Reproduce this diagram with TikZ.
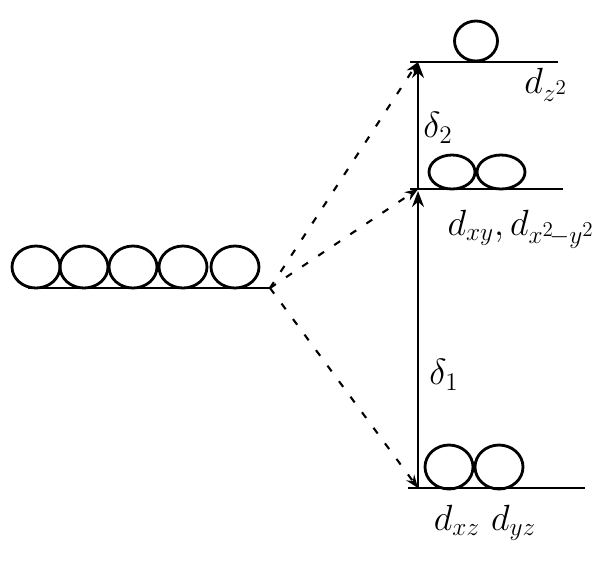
\documentclass[tikz,border=0pt]{standalone}
\usetikzlibrary{arrows.meta,positioning,shapes.geometric}
\begin{document}
\begin{tikzpicture}[
  x=0.02cm, y=-0.02cm,
  level/.style={draw=black,line width=1.3pt},
  orb/.style={ellipse,draw=black,line width=1.6pt,inner sep=0pt,
              minimum width=0.96cm,minimum height=0.84cm},
  split/.style={draw=black,line width=1.2pt,dash pattern=on 4pt off 7pt,
                -{Stealth[length=2.6mm]}},
  gap/.style={draw=black,line width=1.3pt,-{Stealth[length=3.2mm]}},
  lbl/.style={font=\huge,inner sep=1pt}
]
\useasboundingbox (0,0) rectangle (604,562);

% ---- free ion: five degenerate d orbitals ----
\coordinate (free-l) at (28,288);
\coordinate (free-r) at (270,288);
\draw[level] (free-l) -- (free-r);
\foreach \x [count=\i] in {36,84,133,183,235}
  \node[orb] (free\i) at (\x,267) {};

% ---- split levels ----
\coordinate (top-a) at (418,62);
\coordinate (mid-a) at (418,189);
\coordinate (low-a) at (418,488);
\draw[level] (410,62) -- (558,62);
\draw[level] (410,189) -- (563,189);
\draw[level] (408,488) -- (585,488);

\node[orb,minimum width=0.86cm,minimum height=0.8cm] (z2) at (476,41) {};
\node[orb,minimum width=0.92cm,minimum height=0.68cm] (xy) at (452,172) {};
\node[orb,minimum width=0.96cm,minimum height=0.68cm] (x2y2) at (501,172) {};
\node[orb,minimum width=0.96cm,minimum height=0.88cm] (xz) at (449,467) {};
\node[orb,minimum width=0.96cm,minimum height=0.88cm] (yz) at (499,467) {};

% ---- splitting (dashed) ----
\draw[split] (free-r) -- (top-a);
\draw[split] (free-r) -- (mid-a);
\draw[split] (free-r) -- (low-a);

% ---- energy gaps ----
\draw[gap] (mid-a) -- (top-a);
\draw[gap] (low-a) -- ([yshift=-0.04cm]mid-a);
\node[lbl] (d2) at (438,128) {$\delta_2$};
\node[lbl] (d1) at (444,375) {$\delta_1$};

% ---- labels ----
\node[lbl] (lz2) at (546,85) {$d_{z^2}$};
\node[lbl] (lxy) at (521,229) {$d_{xy},d_{x^2\!-y^2}$};
\node[lbl] (lxz) at (485,523) {$d_{xz}\ d_{yz}$};

\end{tikzpicture}
\end{document}
